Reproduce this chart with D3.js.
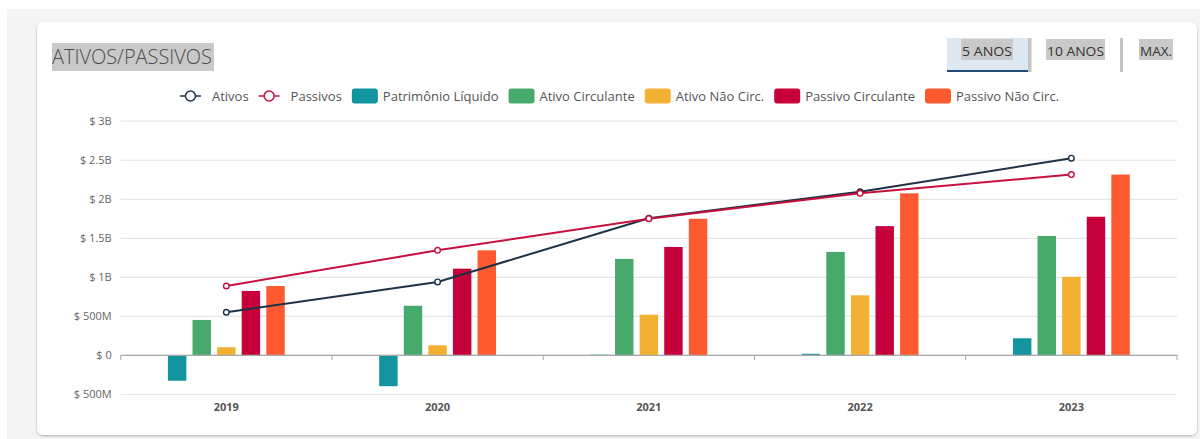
<!DOCTYPE html>
<html>
<head>
<meta charset="utf-8">
<script src="https://cdn.jsdelivr.net/npm/d3@7"></script>
<style>
  html, body { margin: 0; padding: 0; background: #fff; }
  svg { display: block; font-family: "Open Sans", "Noto Sans", sans-serif; }
</style>
</head>
<body>
<svg id="chart" width="1200" height="439"></svg>
<script>
// ---- data ----
const years = ["2019", "2020", "2021", "2022", "2023"];
const ativos = [0.547e9, 0.935e9, 1.75e9, 2.09e9, 2.52e9];
const passivos = [0.883e9, 1.34e9, 1.745e9, 2.07e9, 2.31e9];
const patrimonioLiquido = [-0.33e9, -0.40e9, 0.004e9, 0.015e9, 0.214e9];
const ativoCirculante = [0.448e9, 0.63e9, 1.23e9, 1.32e9, 1.524e9];
const ativoNaoCirc = [0.099e9, 0.124e9, 0.516e9, 0.764e9, 1.0e9];
const passivoCirculante = [0.82e9, 1.105e9, 1.383e9, 1.65e9, 1.77e9];
const passivoNaoCirc = [0.883e9, 1.34e9, 1.745e9, 2.07e9, 2.31e9];
const yTicks = [-0.5e9, 0, 0.5e9, 1e9, 1.5e9, 2e9, 2.5e9, 3e9];
const periodButtons = ["5 ANOS", "10 ANOS", "MAX."];

const barSeries = [
  { name: "Patrimônio Líquido", values: patrimonioLiquido, color: "#13959f" },
  { name: "Ativo Circulante", values: ativoCirculante, color: "#47a96c" },
  { name: "Ativo Não Circ.", values: ativoNaoCirc, color: "#f2b133" },
  { name: "Passivo Circulante", values: passivoCirculante, color: "#c5003a" },
  { name: "Passivo Não Circ.", values: passivoNaoCirc, color: "#fe5a30" }
];
const lineSeries = [
  { name: "Ativos", values: ativos, color: "#1d3246" },
  { name: "Passivos", values: passivos, color: "#c8103f" }
];

const svg = d3.select("#chart");

// ---- page background & card ----
svg.append("rect").attr("x", 7).attr("y", 9).attr("width", 1193).attr("height", 430).attr("fill", "#f4f4f4");
const defs = svg.append("defs");
const f = defs.append("filter").attr("id", "shadow").attr("x", "-5%").attr("y", "-5%").attr("width", "110%").attr("height", "110%");
f.append("feDropShadow").attr("dx", 0).attr("dy", 1).attr("stdDeviation", 1.3).attr("flood-color", "#000").attr("flood-opacity", 0.28);
svg.append("rect").attr("x", 37).attr("y", 22).attr("width", 1160).attr("height", 413).attr("rx", 6)
  .attr("fill", "#fff").attr("filter", "url(#shadow)");

// ---- title ----
const titleG = svg.append("g");
titleG.append("rect").attr("fill", "#c9c9c9").attr("x", 52).attr("y", 43).attr("width", 162).attr("height", 28);
titleG.append("text").attr("x", 52).attr("y", 63.5).attr("font-size", 19.5)
  .attr("fill", "#4d4d4d").attr("font-weight", 300).attr("textLength", 160).attr("lengthAdjust", "spacingAndGlyphs")
  .text("ATIVOS/PASSIVOS");

// ---- period buttons ----
const btnG = svg.append("g");
btnG.append("rect").attr("x", 947).attr("y", 38).attr("width", 81).attr("height", 34).attr("fill", "#dee8f1");
btnG.append("rect").attr("x", 947).attr("y", 70).attr("width", 81).attr("height", 2).attr("fill", "#1f4a73");
btnG.append("rect").attr("x", 1028).attr("y", 38).attr("width", 3.5).attr("height", 34).attr("fill", "#c4c4c4");
btnG.append("rect").attr("x", 1120).attr("y", 38).attr("width", 3).attr("height", 34).attr("fill", "#c4c4c4");
const btnBoxes = [[961, 52], [1046, 59], [1139, 34]];
periodButtons.forEach((b, i) => {
  const [bx, bw] = btnBoxes[i];
  btnG.append("rect").attr("x", bx).attr("y", 39).attr("width", bw).attr("height", 21).attr("fill", "#c9c9c9");
  btnG.append("text").attr("x", bx + bw / 2).attr("y", 55.5).attr("text-anchor", "middle")
    .attr("font-size", 13.5).attr("fill", "#333").attr("textLength", bw - 2).attr("lengthAdjust", "spacingAndGlyphs").text(b);
});

// ---- scales ----
const x = d3.scaleBand().domain(years).range([120.7, 1177]);
const xi = d3.scaleBand().domain(barSeries.map(s => s.name)).range([0, x.bandwidth()])
  .paddingInner(0.25).paddingOuter(1.92);
const y = d3.scaleLinear().domain([-0.5e9, 3e9]).range([394, 120.7]);

const fmt = v => {
  const a = Math.abs(v);
  if (a === 0) return "$ 0";
  if (a >= 1e9) return "$ " + (a / 1e9) + "B";
  return "$ " + (a / 1e6) + "M";
};

// ---- gridlines & y axis ----
const yAxis = svg.append("g").attr("transform", "translate(120.7,0)")
  .call(d3.axisLeft(y).tickValues(yTicks).tickFormat(fmt).tickSize(-(1177 - 120.7)).tickPadding(9));
yAxis.select(".domain").remove();
yAxis.selectAll(".tick line").attr("stroke", "#e6e6e6").attr("stroke-width", 1.2);
yAxis.selectAll(".tick text").attr("font-size", 11).attr("fill", "#666").attr("font-family", "Open Sans, sans-serif");

// ---- bars ----
const groups = svg.append("g").selectAll("g").data(years).join("g")
  .attr("transform", d => `translate(${x(d)},0)`);
barSeries.forEach(s => {
  groups.append("rect")
    .attr("x", xi(s.name))
    .attr("width", xi.bandwidth())
    .attr("y", (d, i) => y(Math.max(0, s.values[i])))
    .attr("height", (d, i) => Math.abs(y(s.values[i]) - y(0)))
    .attr("fill", s.color);
});

// ---- x axis at zero ----
const xAxis = svg.append("g").attr("transform", `translate(0,${y(0)})`)
  .call(d3.axisBottom(x).tickSize(0).tickFormat(""));
xAxis.select(".domain").attr("stroke", "#a8a8a8").attr("stroke-width", 1.3);
const bounds = years.map(d => x(d)).concat([x.range()[1]]);
xAxis.selectAll(".bound").data(bounds).join("line").attr("class", "bound")
  .attr("x1", d => d).attr("x2", d => d).attr("y1", 0).attr("y2", 5)
  .attr("stroke", "#a8a8a8").attr("stroke-width", 1);

// x labels
svg.append("g").selectAll("text").data(years).join("text")
  .attr("x", d => x(d) + x.bandwidth() / 2).attr("y", 411)
  .attr("text-anchor", "middle").attr("font-size", 11).attr("font-weight", 700).attr("fill", "#555")
  .text(d => d);

// ---- lines ----
const cx = d => x(d) + x.bandwidth() / 2;
lineSeries.forEach(s => {
  const line = d3.line().x((d, i) => cx(years[i])).y(d => y(d));
  svg.append("path").datum(s.values).attr("d", line).attr("fill", "none")
    .attr("stroke", s.color).attr("stroke-width", 2);
  svg.append("g").selectAll("circle").data(s.values).join("circle")
    .attr("cx", (d, i) => cx(years[i])).attr("cy", d => y(d)).attr("r", 2.8)
    .attr("fill", "#fff").attr("stroke", s.color).attr("stroke-width", 1.4);
});

// ---- legend ----
const legendItems = lineSeries.map(s => ({ ...s, type: "line" }))
  .concat(barSeries.map(s => ({ ...s, type: "bar" })));
const leg = svg.append("g");
let lx = 0;
const ly = 96;
legendItems.forEach(it => {
  const g = leg.append("g").attr("transform", `translate(${lx},0)`);
  let mw;
  if (it.type === "line") {
    g.append("line").attr("x1", 0).attr("x2", 21).attr("y1", ly).attr("y2", ly).attr("stroke", it.color).attr("stroke-width", 1.5);
    g.append("circle").attr("cx", 10.5).attr("cy", ly).attr("r", 5).attr("fill", "#fff").attr("stroke", it.color).attr("stroke-width", 1.5);
    mw = 21 + 11;
  } else {
    g.append("rect").attr("x", 0).attr("y", ly - 7.5).attr("width", 26).attr("height", 15).attr("rx", 3).attr("fill", it.color);
    mw = 26 + 5;
  }
  const t = g.append("text").attr("x", mw).attr("y", ly + 4.5).attr("font-size", 13).attr("fill", "#555").text(it.name);
  lx += mw + t.node().getComputedTextLength() + 10;
});
const legW = lx - 10;
leg.attr("transform", `translate(${619.5 - legW / 2},0)`);
</script>
</body>
</html>
